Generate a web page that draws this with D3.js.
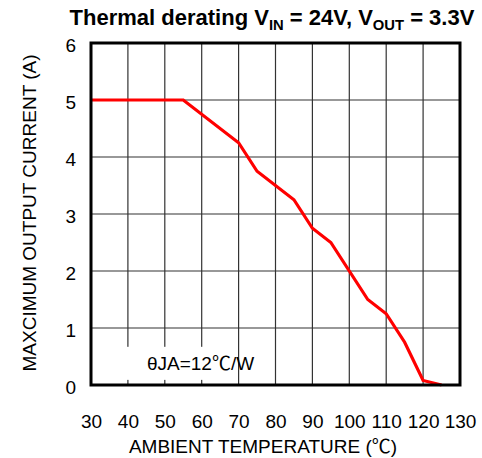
<!DOCTYPE html>
<html>
<head>
<meta charset="utf-8">
<script src="https://cdn.jsdelivr.net/npm/d3@7"></script>
<style>
  html, body { margin: 0; padding: 0; background: #fff; }
  svg text { font-family: "Liberation Sans", Arial, sans-serif; fill: #000; }
  .deg { font-family: "Noto Sans CJK SC", "Liberation Sans", sans-serif; }
</style>
</head>
<body>
<svg id="chart" width="482" height="458"></svg>
<script>
// Derating curve: ambient temperature (°C) vs maximum output current (A)
const temperatures = [30, 55, 70, 75, 85, 90, 95, 105, 110, 115, 120, 125];
const currents     = [5, 5, 4.25, 3.75, 3.25, 2.75, 2.5, 1.5, 1.25, 0.75, 0.08, 0];
const xTicks = [30, 40, 50, 60, 70, 80, 90, 100, 110, 120, 130];
const yTicks = [0, 1, 2, 3, 4, 5, 6];
const xLabelParts = ["AMBIENT TEMPERATURE (", "\u2103", ")"];
const yLabel = "MAXCIMUM OUTPUT CURRENT (A)";
const noteParts = ["\u03B8JA=12", "\u2103", "/W"];

const svg = d3.select("#chart");
const plot = { left: 91, top: 43, right: 460, bottom: 385 };

const x = d3.scaleLinear().domain([30, 130]).range([plot.left, plot.right]);
const y = d3.scaleLinear().domain([0, 6]).range([plot.bottom, plot.top]);

// Grid
const grid = svg.append("g").attr("stroke", "#333").attr("stroke-width", 1.2);
grid.selectAll("line.v").data(xTicks.slice(1, -1)).join("line")
  .attr("x1", d => x(d)).attr("x2", d => x(d))
  .attr("y1", plot.top).attr("y2", plot.bottom);
grid.selectAll("line.h").data(yTicks.slice(1, -1)).join("line")
  .attr("x1", plot.left).attr("x2", plot.right)
  .attr("y1", d => y(d)).attr("y2", d => y(d));

// Text made of plain parts with the degree-Celsius sign in a CJK face
function mixedText(sel, parts) {
  parts.forEach((p, i) => {
    const t = sel.append("tspan").text(p);
    if (i === 1) t.attr("class", "deg");
  });
  return sel;
}

// Annotation with white backing
const noteG = svg.append("g");
noteG.append("rect")
  .attr("x", x(32.5)).attr("y", y(0.67))
  .attr("width", x(92) - x(58.5)).attr("height", y(0.09) - y(0.67))
  .attr("fill", "#fff");
mixedText(noteG.append("text")
  .attr("x", 200.5).attr("y", 370)
  .attr("text-anchor", "middle")
  .attr("font-size", 19), noteParts);

// Curve
const line = d3.line().x(d => x(d[0])).y(d => y(d[1]));
svg.append("path")
  .datum(d3.zip(temperatures, currents))
  .attr("d", line)
  .attr("fill", "none")
  .attr("stroke", "#ff0000")
  .attr("stroke-width", 3.2)
  .attr("stroke-linejoin", "miter");

// Frame
svg.append("rect")
  .attr("x", plot.left).attr("y", plot.top)
  .attr("width", plot.right - plot.left).attr("height", plot.bottom - plot.top)
  .attr("fill", "none").attr("stroke", "#000").attr("stroke-width", 3);

// Axes (labels only; lines drawn by grid and frame)
const xAxis = d3.axisBottom(x).tickValues(xTicks).tickFormat(d3.format("d")).tickSize(0).tickPadding(0);
const xg = svg.append("g").attr("transform", `translate(0,${plot.bottom})`).call(xAxis);
xg.select(".domain").remove();
xg.selectAll("text").attr("font-size", 19).attr("dy", null).attr("y", 43)
  .style("font-family", "Liberation Sans, Arial, sans-serif");

const yAxis = d3.axisLeft(y).tickValues(yTicks).tickFormat(d3.format("d")).tickSize(0).tickPadding(0);
const yg = svg.append("g").attr("transform", `translate(${plot.left},0)`).call(yAxis);
yg.select(".domain").remove();
yg.selectAll("text").attr("font-size", 19).attr("dy", null).attr("x", -15).attr("y", 8)
  .style("font-family", "Liberation Sans, Arial, sans-serif");

// Axis titles
mixedText(svg.append("text")
  .attr("x", 263).attr("y", 453)
  .attr("text-anchor", "middle")
  .attr("font-size", 19), xLabelParts);
svg.append("text")
  .attr("transform", "translate(36,213) rotate(-90)")
  .attr("text-anchor", "middle")
  .attr("font-size", 19)
  .text(yLabel);

// Title with subscripts
const title = svg.append("text")
  .attr("x", 272).attr("y", 25)
  .attr("text-anchor", "middle")
  .attr("font-size", 22)
  .attr("font-weight", "bold");
title.append("tspan").text("Thermal derating V");
title.append("tspan").attr("font-size", 14.8).attr("dy", 5).text("IN");
title.append("tspan").attr("dy", -5).text(" = 24V, V");
title.append("tspan").attr("font-size", 14.8).attr("dy", 5).text("OUT");
title.append("tspan").attr("dy", -5).text(" = 3.3V");
</script>
</body>
</html>
